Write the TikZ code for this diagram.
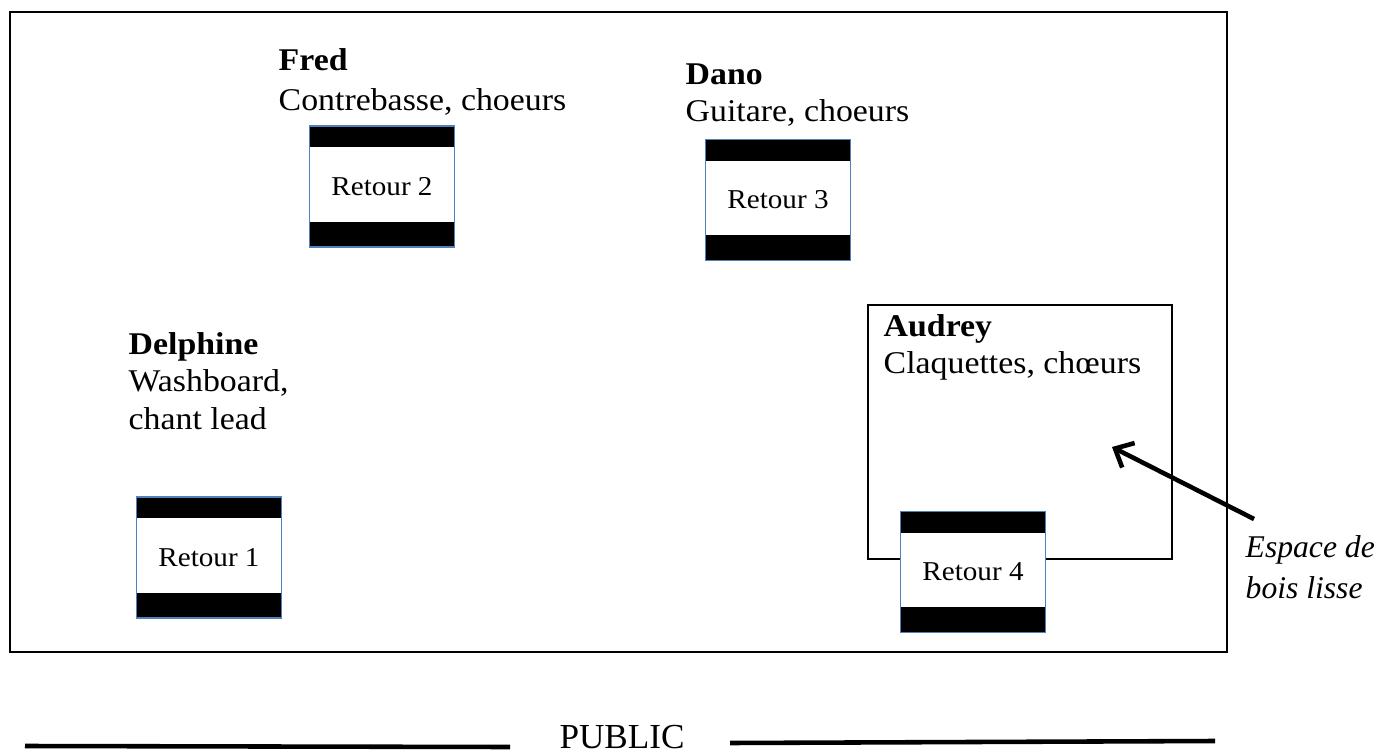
\documentclass[tikz,border=0pt]{standalone}
\usepackage{fontspec}
\setmainfont{Liberation Serif}[FakeStretch=1.07]
\newfontfamily\simple{Liberation Serif}
\usetikzlibrary{arrows.meta}
\definecolor{bordretour}{HTML}{4F81BD}
\tikzstyle{nom}=[inner sep=0pt,anchor=north west,align=left,font=\fontsize{18}{21.2}\selectfont]
\tikzstyle{retour}=[draw=bordretour,line width=0.8pt,fill=white,minimum width=2.9cm,minimum height=2.42cm,
  inner sep=0pt,font=\fontsize{15.5}{16}\selectfont,
  path picture={\fill[black] (path picture bounding box.north west) rectangle ([yshift=-0.42cm]path picture bounding box.north east);
                \fill[black] (path picture bounding box.south west) rectangle ([yshift=0.5cm]path picture bounding box.south east);}]

\begin{document}
\begin{tikzpicture}[x=0.02cm,y=-0.02cm,thick]
    \useasboundingbox (0,0) rectangle (1378,756);
    % la scene
    \draw [line width=1.1pt] (10,12) rectangle (1227,652);
    \draw [line width=1.1pt] (868,305) rectangle (1172,559);
    % musiciens
    \node [nom,font=\fontsize{18}{22.5}\selectfont] (fred) at (278,48) {\textbf{Fred}\\Contrebasse, choeurs};
    \node [nom] (dano) at (685,63) {\textbf{Dano}\\Guitare, choeurs};
    \node [nom] (delphine) at (128,332) {\textbf{Delphine}\\Washboard,\\chant lead};
    \node [nom] (audrey) at (883,314) {\textbf{Audrey}\\Claquettes, ch\oe urs};
    % retours
    \node [retour] (r1) at (209,557.5) {Retour 1};
    \node [retour] (r2) at (382,186.5) {Retour 2};
    \node [retour] (r3) at (778,200) {Retour 3};
    \node [retour] (r4) at (973,572) {Retour 4};
    % fleche
    \node [nom,font=\fontsize{18}{23.5}\selectfont\simple\itshape] (espace) at (1245,535) {Espace de\\bois lisse};
    \coordinate (depart) at (1254,519);
    \coordinate (pointe) at (1112,447);
    \draw [line width=2.6pt,-{Straight Barb[length=0.3cm,width=0.55cm]}] (depart) -- (pointe);
    % public
    \node [nom,anchor=base,font=\fontsize{20}{22}\selectfont\simple] (public) at (622,748) {PUBLIC};
    \coordinate (g1) at (25,746);
    \coordinate (g2) at (510,747);
    \coordinate (d1) at (730,743);
    \coordinate (d2) at (1215,741);
    \draw [line width=2.6pt] (g1) -- (g2);
    \draw [line width=2.6pt] (d1) -- (d2);
\end{tikzpicture}
\end{document}
